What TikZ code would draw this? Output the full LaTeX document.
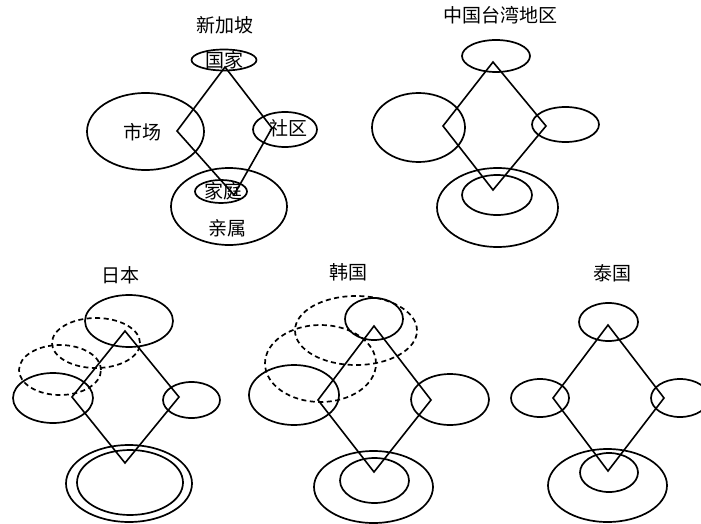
\documentclass[tikz,border=0pt]{standalone}
\usepackage{fontspec}
\newfontfamily\cjk{Noto Sans CJK SC}
\usetikzlibrary{shapes.geometric}
\begin{document}
\begin{tikzpicture}[x=1pt,y=-1pt,
  ell/.style={draw,ellipse,line width=1.7pt,inner sep=0pt},
  dell/.style={ell,dash pattern=on 5pt off 3.5pt},
  dia/.style={line width=1.6pt,line join=miter},
  lab/.style={font=\cjk\fontsize{19}{19}\selectfont,inner sep=0pt}]
\useasboundingbox (0,0) rectangle (701,524);
\newcommand\ellnode[6][ell]{\node[#1,minimum width=#5*2pt,minimum height=#6*2pt] (#2) at (#3,#4) {};}
% ---------- Singapore ----------
\node[lab] (tSG) at (225,25) {新加坡};
\ellnode{sgTop}{224}{60}{32.5}{10.5}
\ellnode{sgL}{145.5}{131.5}{58.5}{38.5}
\ellnode{sgR}{285}{129.5}{32}{17.5}
\ellnode{sgBo}{229}{206.5}{58}{38.5}
\ellnode{sgBi}{221}{191.5}{26}{11.5}
\node[lab] (sgTopT) at (224,60) {国家};
\node[lab] (sgLT) at (142,132) {市场};
\node[lab] (sgRT) at (288,128) {社区};
\node[lab] (sgBiT) at (223,191) {家庭};
\node[lab] (sgBoT) at (227,228) {亲属};
\coordinate (sgt) at (225,67);
\coordinate (sgr) at (272,128);
\coordinate (sgb) at (234,195);
\coordinate (sgl) at (177,131);
\draw[dia] (sgt) -- (sgr) -- (sgb) -- (sgl) -- cycle;
% ---------- Taiwan ----------
\node[lab] (tTW) at (500,15) {中国台湾地区};
\ellnode{twTop}{496}{56}{34}{16}
\ellnode{twL}{418.5}{127.5}{46.5}{34.5}
\ellnode{twR}{565.5}{124.5}{33.5}{17.5}
\ellnode{twBi}{497}{195}{35}{20}
\ellnode{twBo}{497.5}{207.5}{60.5}{39.5}
\coordinate (twt) at (493,62);
\coordinate (twr) at (546,126);
\coordinate (twb) at (493,190);
\coordinate (twl) at (443,126);
\draw[dia] (twt) -- (twr) -- (twb) -- (twl) -- cycle;
% ---------- Japan ----------
\node[lab] (tJP) at (120,275) {日本};
\ellnode{jpTop}{129}{321}{44}{26}
\ellnode[dell]{jpD1}{96}{343}{44}{25}
\ellnode[dell]{jpD2}{60}{370}{41}{25}
\ellnode{jpL}{53}{398}{40}{25}
\ellnode{jpR}{191.5}{400}{28.5}{18}
\ellnode{jpBo}{129}{483.5}{63}{38.5}
\ellnode{jpBi}{130}{482.5}{53}{32.5}
\coordinate (jpt) at (125,331);
\coordinate (jpr) at (179,397);
\coordinate (jpb) at (125,463);
\coordinate (jpl) at (72,397);
\draw[dia] (jpt) -- (jpr) -- (jpb) -- (jpl) -- cycle;
% ---------- Korea ----------
\node[lab] (tKR) at (348,272) {韩国};
\ellnode{krTop}{374}{319}{29}{21}
\ellnode[dell]{krD1}{356}{330.5}{61}{34.5}
\ellnode[dell]{krD2}{320.5}{363.5}{55.5}{38.5}
\ellnode{krL}{294}{395}{45}{30}
\ellnode{krR}{450}{399.5}{39}{25.5}
\ellnode{krBo}{373.5}{487}{59.5}{36}
\ellnode{krBi}{374.5}{480.5}{34.5}{22.5}
\coordinate (krt) at (374,326);
\coordinate (krr) at (431,400);
\coordinate (krb) at (374,472);
\coordinate (krl) at (318,400);
\draw[dia] (krt) -- (krr) -- (krb) -- (krl) -- cycle;
% ---------- Thailand ----------
\node[lab] (tTH) at (612,273) {泰国};
\ellnode{thTop}{608.5}{322}{29.5}{19}
\ellnode{thL}{540}{398}{29}{19}
\ellnode{thR}{680}{398}{29}{19}
\ellnode{thBo}{607.5}{485.5}{59.5}{36.5}
\ellnode{thBi}{609}{472.5}{29}{19.5}
\coordinate (tht) at (608,325);
\coordinate (thr) at (664,398);
\coordinate (thb) at (608,471);
\coordinate (thl) at (553,398);
\draw[dia] (tht) -- (thr) -- (thb) -- (thl) -- cycle;
\end{tikzpicture}
\end{document}
